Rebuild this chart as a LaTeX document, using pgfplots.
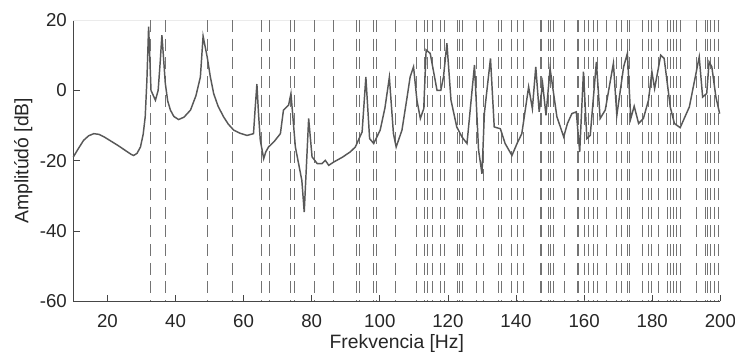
\documentclass[border=0pt]{standalone}
\usepackage{fontspec}
\setmainfont{Liberation Sans}
\usepackage{pgfplots}
\pgfplotsset{compat=1.18}
\definecolor{curvec}{RGB}{88,88,88}
\definecolor{dashc}{RGB}{115,115,115}
\definecolor{axc}{RGB}{70,70,70}
\begin{document}
\fontsize{14}{16}\selectfont
\begin{tikzpicture}
\useasboundingbox (-55pt,-43pt) rectangle (496pt,226pt);
\begin{axis}[
  scale only axis,
  width=485pt, height=211pt,
  at={(0pt,0pt)}, anchor=south west,
  xmin=10, xmax=200, ymin=-60, ymax=20,
  xtick={20,40,...,200}, ytick={-60,-40,...,20},
  axis x line*=bottom, axis y line*=left,
  axis line style={axc, line width=0.6pt},
  tick style={axc, line width=0.6pt},
  tick align=inside, major tick length=5pt,
  tick label style={font=\fontsize{14}{16}\selectfont, text=black!85},
  xticklabel style={yshift=-5pt},
  /pgf/number format/assume math mode=true,
  xlabel={Frekvencia [Hz]}, ylabel={Amplitúdó [dB]},
  label style={font=\fontsize{14.5}{16}\selectfont, text=black!85},
  xlabel style={yshift=4.5pt},
  ylabel style={yshift=-4pt},
  clip=false,
]
\draw[black!8, line width=0.6pt] (rel axis cs:0,1) -- (rel axis cs:1,1);
\pgfplotsinvokeforeach{32.6,37.0,49.3,56.6,65.2,67.5,73.9,74.9,80.8,86.4,93.1,93.9,98.1,99.0,104.7,110.7,113.0,114.0,115.4,117.9,119.0,122.7,123.3,124.2,128.5,130.5,134.8,135.6,138.8,140.3,142.2,147.1,147.6,149.5,150.0,151.0,154.2,157.9,158.4,160.1,161.3,162.8,163.8,166.7,169.6,171.1,172.6,173.3,177.0,178.9,179.9,181.8,184.5,185.3,186.1,187.2,188.2,192.9,195.6,196.3,197.2,198.2,199.5}{
  \addplot[dashc, line width=0.7pt, dash pattern=on 9pt off 5pt] coordinates {(#1,20) (#1,-60)};
}
\addplot[curvec, line width=1.1pt] coordinates {
(10,-18.9) (11.5,-16.5) (13,-14.2) (14.5,-12.9) (16,-12.3) (17.5,-12.5) (19,-13.2) (21,-14.4) (23,-15.6) (25,-16.9) (27,-18.2) (27.7,-18.5) (28.7,-17.9) (29.7,-16.1) (30.5,-12.5) (31.1,-7.5) (31.6,3) (32.1,18.1) (32.5,8) (32.8,0.0) (34.1,-2.8) (34.9,0) (35.5,8) (36.0,15.7) (36.5,9) (37.0,2) (37.7,-3) (38.5,-5.6) (39.5,-7.4) (40.9,-8.3) (42.5,-7.6) (44.4,-5.6) (46,-1.5) (47.3,3.8) (48.1,15.4) (49.3,9.5) (50.2,4) (51.2,-0.9) (52.5,-4.5) (54.1,-7.5) (55.5,-9.6) (57.1,-11.3) (59,-12.2) (61.0,-12.8) (62.9,-12.3) (63.4,-5) (63.9,1.8) (64.4,-7) (64.9,-14.2) (65.9,-19.4) (66.5,-17.5) (67.3,-16.1) (69,-14.5) (70.8,-12.3) (71.7,-5.6) (73.2,-4.2) (73.9,-0.9) (75.2,-16.1) (77.1,-25.6) (77.8,-34.6) (79.1,-8.0) (80.1,-18.9) (81.6,-20.8) (83.0,-20.8) (84.0,-19.9) (85.0,-21.3) (86.4,-20.4) (89,-19) (91.3,-17.5) (92.8,-16.1) (94.8,-11.8) (95.9,3.8) (97.0,-13.7) (98.2,-15.1) (100.1,-11.3) (101.5,-5) (102.8,3.7) (104.0,-12.3) (104.8,-16.1) (106.5,-11.3) (108,-2) (108.9,3.8) (109.9,6.7) (110.9,-2.8) (111.9,-8.0) (112.9,-5.2) (113.6,11.5) (114.8,10.5) (116.8,0) (117.9,0) (118.7,3.8) (119.7,13.4) (120.9,-2.8) (122.6,-10.4) (124.1,-13.2) (125.6,-15.1) (127.8,7.2) (129.0,-17.0) (130.0,-23.7) (130.7,-6.6) (132.5,9.1) (133.6,-10.4) (135.4,-10.9) (136.8,-15.1) (138.8,-18.5) (140.3,-15.1) (141.7,-12.3) (143.7,1.0) (144.8,-5.2) (145.8,6.7) (146.8,-6.1) (147.8,2.0) (148.8,-7.1) (150.0,6.2) (152.0,-7.5) (154.0,-13.2) (155.1,-9.4) (156.4,-6.6) (157.7,-6.1) (158.7,-17.5) (159.8,5.3) (160.8,-13.7) (161.8,-12.8) (163.6,8.1) (164.7,-8.0) (166.2,-5.6) (168.6,7.7) (169.6,-7.1) (171.6,6.7) (172.7,10.5) (173.7,-8.0) (174.7,-4.5) (176.0,-9.4) (177.4,-8.0) (178.9,-2.8) (179.9,5.3) (180.7,0.5) (182.5,10.0) (183.5,9.1) (185.3,-4.7) (186.5,-9.4) (188.2,-10.6) (190.9,-4.7) (193.8,9.5) (194.8,-1.9) (196.0,-0.9) (196.7,8.1) (197.5,6.7) (198.7,-1.9) (199.8,-6.6)
};
\end{axis}
\end{tikzpicture}
\end{document}
